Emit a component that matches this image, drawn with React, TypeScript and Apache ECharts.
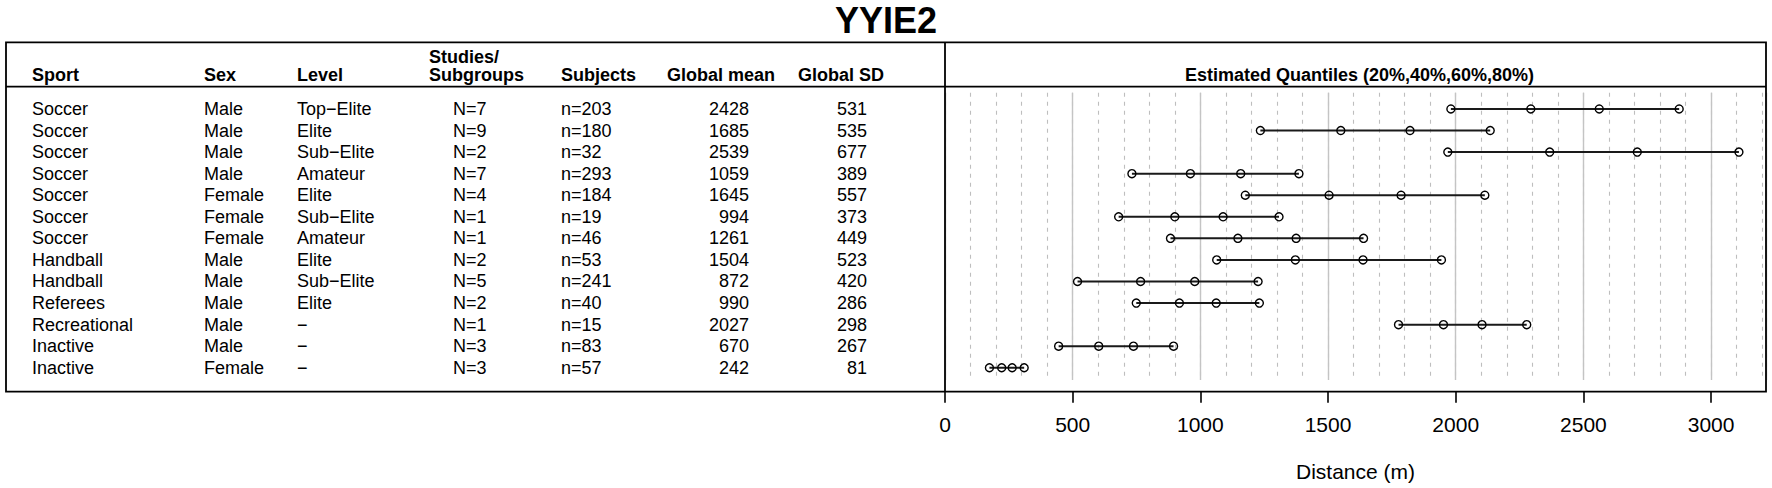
import React, { useEffect, useRef } from "react";
import * as echarts from "echarts";

const FONT = "'Liberation Sans', Arial, Helvetica, sans-serif";

// ---- table columns ----
const sports = ["Soccer", "Soccer", "Soccer", "Soccer", "Soccer", "Soccer", "Soccer", "Handball", "Handball", "Referees", "Recreational", "Inactive", "Inactive"];
const sexes = ["Male", "Male", "Male", "Male", "Female", "Female", "Female", "Male", "Male", "Male", "Male", "Male", "Female"];
const levels = ["Top\u2212Elite", "Elite", "Sub\u2212Elite", "Amateur", "Elite", "Sub\u2212Elite", "Amateur", "Elite", "Sub\u2212Elite", "Elite", "\u2212", "\u2212", "\u2212"];
const studies = ["N=7", "N=9", "N=2", "N=7", "N=4", "N=1", "N=1", "N=2", "N=5", "N=2", "N=1", "N=3", "N=3"];
const subjects = ["n=203", "n=180", "n=32", "n=293", "n=184", "n=19", "n=46", "n=53", "n=241", "n=40", "n=15", "n=83", "n=57"];
const globalMean = [2428, 1685, 2539, 1059, 1645, 994, 1261, 1504, 872, 990, 2027, 670, 242];
const globalSD = [531, 535, 677, 389, 557, 373, 449, 523, 420, 286, 298, 267, 81];

// ---- estimated quantiles (m) ----
const q20 = [1981, 1235, 1969, 732, 1176, 680, 883, 1064, 519, 749, 1776, 445, 174];
const q40 = [2294, 1550, 2368, 961, 1504, 900, 1147, 1372, 766, 918, 1952, 602, 222];
const q60 = [2562, 1821, 2711, 1158, 1786, 1089, 1375, 1637, 978, 1062, 2103, 738, 263];
const q80 = [2875, 2135, 3109, 1386, 2114, 1308, 1639, 1944, 1226, 1231, 2278, 895, 310];

const xTicks = [0, 500, 1000, 1500, 2000, 2500, 3000];
const rowIdx = sports.map((_, i) => i);

const headers = ["Sport", "Sex", "Level", "Subjects", "Global mean", "Global SD"];
const headerX = [32, 204, 297, 561, 667, 798];
const studiesHeader = ["Studies/", "Subgroups"];
const plotHeader = "Estimated Quantiles (20%,40%,60%,80%)";

// layout
const GRID_LEFT = 945;
const BOX_RIGHT = 1766;
const BOX_LEFT = 6;
const BOX_TOP = 42.3;
const BOX_BOTTOM = 391.7;
const HEADER_LINE = 86.7;
const Y_MIN = -1;
const Y_MAX = 13.11;
const X_MAX = 3215;

function colAxis(vals: (string | number)[], offset: number, align: string) {
  return {
    type: "value",
    gridIndex: 0,
    position: "left",
    offset,
    min: Y_MIN,
    max: Y_MAX,
    inverse: true,
    axisLine: { show: false, onZero: false },
    axisTick: { show: false },
    splitLine: { show: false },
    axisLabel: {
      customValues: rowIdx,
      formatter: (v: number) => {
        const s = vals[Math.round(v)];
        return s === undefined ? "" : String(s);
      },
      align,
      margin: 0,
      fontSize: 18,
      color: "#000",
      fontFamily: FONT,
      padding: [0, 0, 3, 0],
    },
  };
}

export default function App() {
  const ref = useRef<HTMLDivElement>(null);
  useEffect(() => {
    if (!ref.current) return;
    const chart = echarts.init(ref.current, undefined, { renderer: "svg" });

    const lineSeries = rowIdx.map((i) => ({
      type: "line",
      xAxisIndex: 0,
      yAxisIndex: 0,
      data: [q20[i], q40[i], q60[i], q80[i]].map((v) => [v, i]),
      symbol: "circle",
      symbolSize: 8,
      showSymbol: true,
      lineStyle: { color: "#1a1a1a", width: 2 },
      itemStyle: { color: "rgba(0,0,0,0)", borderColor: "#000", borderWidth: 1.4 },
      z: 5,
      silent: true,
    }));

    const graphics: any[] = [
      {
        type: "rect",
        z: 100,
        shape: { x: BOX_LEFT, y: BOX_TOP, width: BOX_RIGHT - BOX_LEFT, height: BOX_BOTTOM - BOX_TOP },
        style: { fill: "none", stroke: "#000", lineWidth: 1.8 },
      },
      {
        type: "line",
        z: 100,
        shape: { x1: BOX_LEFT, y1: HEADER_LINE, x2: BOX_RIGHT, y2: HEADER_LINE },
        style: { stroke: "#000", lineWidth: 1.8 },
      },
      {
        type: "line",
        z: 100,
        shape: { x1: GRID_LEFT, y1: BOX_TOP, x2: GRID_LEFT, y2: BOX_BOTTOM },
        style: { stroke: "#000", lineWidth: 1.8 },
      },
    ];
    headers.forEach((h, k) => {
      graphics.push({
        type: "text",
        z: 100,
        x: headerX[k],
        y: 75,
        style: { text: h, font: `bold 18px ${FONT}`, fill: "#000", align: "left", verticalAlign: "middle" },
      });
    });
    studiesHeader.forEach((h, k) => {
      graphics.push({
        type: "text",
        z: 100,
        x: 429,
        y: 57 + k * 18,
        style: { text: h, font: `bold 18px ${FONT}`, fill: "#000", align: "left", verticalAlign: "middle" },
      });
    });
    graphics.push({
      type: "text",
      z: 100,
      x: (GRID_LEFT + BOX_RIGHT) / 2 + 4,
      y: 75,
      style: { text: plotHeader, font: `bold 18px ${FONT}`, fill: "#000", align: "center", verticalAlign: "middle" },
    });

    const option: any = {
      animation: false,
      backgroundColor: "#fff",
      title: {
        text: "YYIE2",
        left: "center",
        top: 2,
        padding: 0,
        textStyle: { fontSize: 36, fontWeight: "bold", color: "#000", fontFamily: FONT },
      },
      grid: [
        { left: GRID_LEFT, right: 1772 - BOX_RIGHT, top: BOX_TOP + 45.1, bottom: 488 - BOX_BOTTOM },
        { left: GRID_LEFT, right: 1772 - BOX_RIGHT, top: 92.7, bottom: 488 - 380 },
      ],
      xAxis: [
        {
          type: "value",
          gridIndex: 0,
          position: "bottom",
          min: 0,
          max: X_MAX,
          axisLine: { show: false, onZero: false },
          splitLine: { show: false },
          axisTick: {
            show: true,
            inside: false,
            length: 11,
            customValues: xTicks,
            lineStyle: { color: "#000", width: 1.6 },
          },
          axisLabel: {
            customValues: xTicks,
            formatter: (v: number) => String(v),
            fontSize: 21,
            color: "#000",
            fontFamily: FONT,
            margin: 22,
          },
          name: "Distance (m)",
          nameLocation: "middle",
          nameGap: 69,
          nameTextStyle: { fontSize: 21, color: "#000", fontFamily: FONT },
        },
        {
          type: "value",
          gridIndex: 1,
          min: 0,
          max: X_MAX,
          interval: 100,
          axisLine: { show: false, onZero: false },
          axisTick: { show: false },
          axisLabel: { show: false },
          splitLine: { show: true, lineStyle: { color: "#bebebe", width: 1.1, type: [4, 5] } },
        },
        {
          type: "value",
          gridIndex: 1,
          min: 0,
          max: X_MAX,
          interval: 500,
          axisLine: { show: false, onZero: false },
          axisTick: { show: false },
          axisLabel: { show: false },
          splitLine: { show: true, lineStyle: { color: "#c4c4c4", width: 1.4, type: "solid" } },
        },
      ],
      yAxis: [
        {
          type: "value",
          gridIndex: 0,
          min: Y_MIN,
          max: Y_MAX,
          inverse: true,
          show: false,
        },
        colAxis(sports, GRID_LEFT - 32, "left"),
        colAxis(sexes, GRID_LEFT - 204, "left"),
        colAxis(levels, GRID_LEFT - 297, "left"),
        colAxis(studies, GRID_LEFT - 453, "left"),
        colAxis(subjects, GRID_LEFT - 561, "left"),
        colAxis(globalMean, GRID_LEFT - 749, "right"),
        colAxis(globalSD, GRID_LEFT - 867, "right"),
        { type: "value", gridIndex: 1, min: 0, max: 1, show: false },
      ],
      graphic: graphics,
      series: lineSeries,
    };

    chart.setOption(option);
    return () => chart.dispose();
  }, []);

  return (
    <div
      ref={ref}
      style={{ position: "fixed", left: 0, top: 0, width: 1772, height: 488, background: "#fff" }}
    />
  );
}
